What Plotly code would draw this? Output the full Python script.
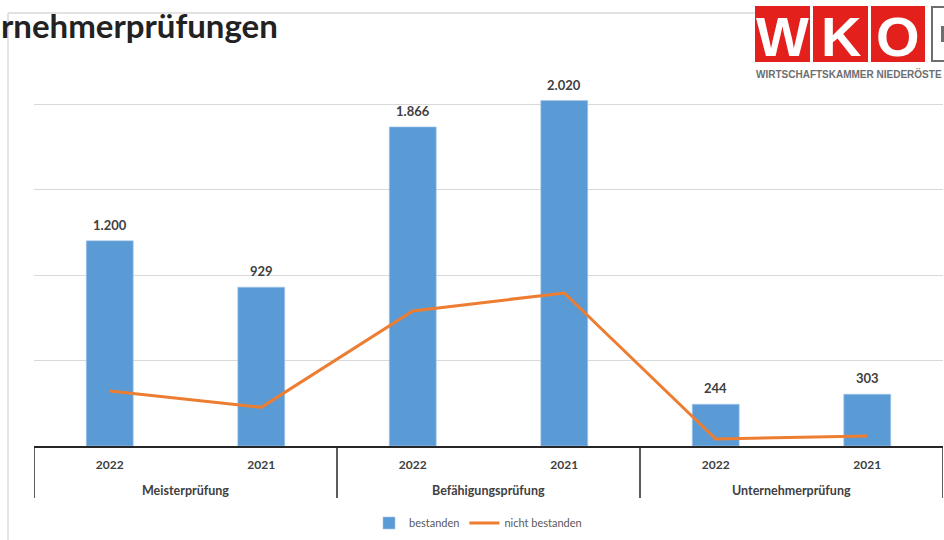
import plotly.graph_objects as go

groups = ["Meisterprüfung", "Meisterprüfung", "Befähigungsprüfung", "Befähigungsprüfung",
          "Unternehmerprüfung", "Unternehmerprüfung"]
years = ["2022", "2021", "2022", "2021", "2022", "2021"]
bestanden = [1200, 929, 1866, 2020, 244, 303]
nicht_bestanden = [322, 226, 790, 895, 41, 58]

keys = [f"{g} {y}" for g, y in zip(groups, years)]
group_names = list(dict.fromkeys(groups))

W, H = 944, 540
ML, MR, MT, MB = 34, 1, 40, 94
PW = W - ML - MR
PH = H - MT - MB


def px(x):
    return (x - ML) / PW


def py(y):
    return (H - MB - y) / PH


FONT = "Lato"
TXT = "#404040"

fig = go.Figure()
fig.add_trace(go.Bar(
    x=keys, y=bestanden, name="bestanden",
    marker=dict(color="#5B9BD5", line=dict(color="#A9C8EA", width=0.6)),
    width=0.31,
))
fig.add_trace(go.Scatter(
    x=keys, y=nicht_bestanden, name="nicht bestanden",
    mode="lines", line=dict(color="#ED7D31", width=3),
))

shapes = [
    # slide frame
    dict(type="line", xref="paper", yref="paper", x0=px(8), x1=px(755), y0=py(13), y1=py(13),
         line=dict(color="#D9D9D9", width=1.5), layer="below"),
    dict(type="line", xref="paper", yref="paper", x0=px(8), x1=px(8), y0=py(13), y1=py(540),
         line=dict(color="#E3E3E3", width=2), layer="below"),
]
# category box dividers at group boundaries
n = len(keys)
bounds = [-0.5] + [i + 0.5 for i in range(n - 1) if groups[i] != groups[i + 1]] + [n - 0.5]
for b in bounds:
    shapes.append(dict(type="line", xref="x", yref="paper", x0=b, x1=b, y0=0, y1=py(498),
                       line=dict(color="#262626", width=1.5)))
# WKO logo boxes
for x0, x1 in [(755, 810), (813, 868), (871, 925)]:
    shapes.append(dict(type="rect", xref="paper", yref="paper", x0=px(x0), x1=px(x1),
                       y0=py(62), y1=py(6), fillcolor="#E3201B", line=dict(width=0)))
shapes.append(dict(type="rect", xref="paper", yref="paper", x0=px(932), x1=px(960),
                   y0=py(61), y1=py(7), fillcolor="white", line=dict(color="#6D6E71", width=2)))
shapes.append(dict(type="rect", xref="paper", yref="paper", x0=px(941), x1=px(950),
                   y0=py(42), y1=py(26), fillcolor="#6D6E71", line=dict(width=0)))

annotations = [
    dict(text="<b>rnehmerprüfungen</b>", xref="paper", yref="paper",
         x=px(-1), y=py(25), xanchor="left", yanchor="middle", showarrow=False,
         font=dict(family=FONT, size=33, color="#222222")),
    dict(text="<b>WIRTSCHAFTSKAMMER NIEDERÖSTE</b>", xref="paper", yref="paper",
         x=px(754), y=py(74), xanchor="left", yanchor="middle", showarrow=False,
         font=dict(family="Liberation Sans", size=10, color="#6D6E71")),
]
for letter, cx in [("W", 782.5), ("K", 840.5), ("O", 898)]:
    annotations.append(dict(text=f"<b>{letter}</b>", xref="paper", yref="paper",
                            x=px(cx), y=py(36), xanchor="center", yanchor="middle",
                            showarrow=False,
                            font=dict(family="Liberation Sans", size=56, color="white")))
# value labels above bars (German thousands separator)
for k, v in zip(keys, bestanden):
    annotations.append(dict(text=f"<b>{v:,}</b>".replace(",", "."), x=k, y=v, xref="x", yref="y",
                            yanchor="bottom", yshift=6, showarrow=False,
                            font=dict(family=FONT, size=13, color=TXT)))
# group labels
for gname in group_names:
    idx = [i for i, g in enumerate(groups) if g == gname]
    annotations.append(dict(text=f"<b>{gname}</b>", x=sum(idx) / len(idx), y=py(491),
                            xref="x", yref="paper", xanchor="center", yanchor="middle",
                            showarrow=False, font=dict(family=FONT, size=12.5, color=TXT)))

fig.update_layout(
    width=W, height=H,
    margin=dict(l=ML, r=MR, t=MT, b=MB),
    paper_bgcolor="white", plot_bgcolor="white",
    showlegend=True,
    legend=dict(orientation="h", x=px(478), y=py(523), xanchor="center", yanchor="middle",
                font=dict(family=FONT, size=11, color="#595959"), itemwidth=30,
                traceorder="normal"),
    shapes=shapes, annotations=annotations,
    font=dict(family=FONT),
)
fig.update_xaxes(
    type="category", range=[-0.5, n - 0.5],
    tickvals=keys, ticktext=[f"<b>{y}</b>" for y in years],
    showline=True, linecolor="#262626", linewidth=1.5,
    ticks="", ticklabelstandoff=7,
    tickfont=dict(family=FONT, size=12, color=TXT),
    showgrid=False,
)
fig.update_yaxes(
    range=[0, PH / 0.171], showticklabels=False, ticks="",
    dtick=500, showgrid=True, gridcolor="#D9D9D9", gridwidth=1,
    zeroline=False, showline=False,
)

fig.write_html("out.html", config={"displayModeBar": False},
               post_script="document.body.style.margin='0';")
